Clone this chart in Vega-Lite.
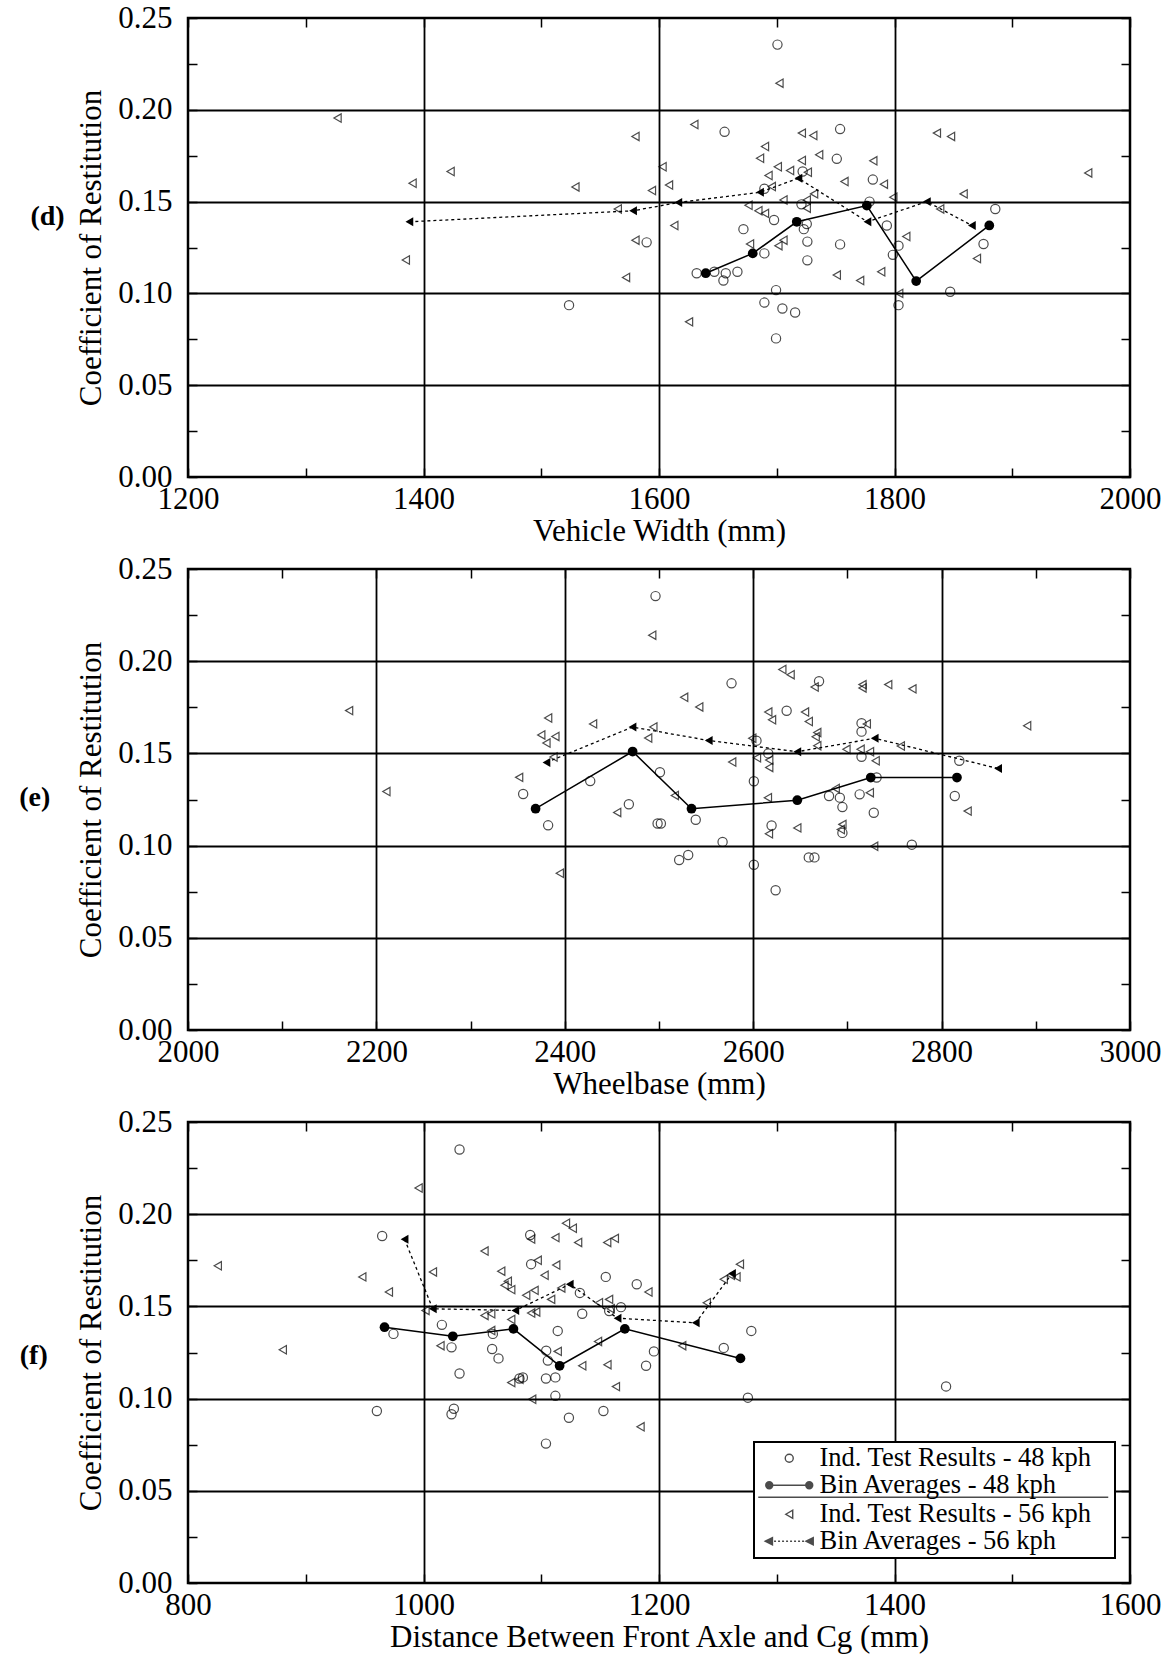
{
"$schema": "https://vega.github.io/schema/vega-lite/v6.json",
"padding": {"left": 17, "top": 0, "right": 5, "bottom": 5},
"background": "white",
"config": {
 "font": "Liberation Serif",
 "view": {"stroke": "black", "strokeWidth": 2.5},
 "legend": {"strokeWidth": 2},
 "axis": {"grid": true, "gridColor": "black", "gridWidth": 1.8, "domain": false, "ticks": true, "tickColor": "black", "tickSize": -9, "tickWidth": 1.5, "labelFont": "Liberation Serif", "labelFontSize": 31, "labelColor": "black", "labelFlush": false, "labelOverlap": false, "labelBound": false, "titleFont": "Liberation Serif", "titleFontSize": 31, "titleFontWeight": "normal", "titleColor": "black"},
 "axisX": {"labelPadding": 16, "titlePadding": 2},
 "axisY": {"labelPadding": 25, "titlePadding": 10}
},
"datasets": {
 "d48": [{"mm":1523.6,"cor":0.0936},{"mm":1589.5,"cor":0.1278},{"mm":1655.7,"cor":0.188},{"mm":1700.6,"cor":0.2355},{"mm":1753.8,"cor":0.1895},{"mm":1751,"cor":0.1733},{"mm":1781.6,"cor":0.162},{"mm":1722,"cor":0.1664},{"mm":1689.5,"cor":0.157},{"mm":1721,"cor":0.1485},{"mm":1778.8,"cor":0.15},{"mm":1697.7,"cor":0.14},{"mm":1671.7,"cor":0.135},{"mm":1723,"cor":0.135},{"mm":1725.5,"cor":0.1378},{"mm":1793.5,"cor":0.137},{"mm":1726,"cor":0.1282},{"mm":1753.8,"cor":0.1267},{"mm":1803.4,"cor":0.126},{"mm":1798.6,"cor":0.121},{"mm":1689.5,"cor":0.1218},{"mm":1726,"cor":0.118},{"mm":1632,"cor":0.111},{"mm":1647,"cor":0.1118},{"mm":1656.7,"cor":0.111},{"mm":1666.6,"cor":0.1118},{"mm":1654.7,"cor":0.107},{"mm":1699.4,"cor":0.1018},{"mm":1689.5,"cor":0.095},{"mm":1704.8,"cor":0.0918},{"mm":1715.6,"cor":0.0896},{"mm":1699.4,"cor":0.0755},{"mm":1803.4,"cor":0.0936},{"mm":1847.3,"cor":0.1009},{"mm":1885.6,"cor":0.146},{"mm":1875.6,"cor":0.1269}],
 "d56": [{"mm":1327,"cor":0.1955},{"mm":1423,"cor":0.1664},{"mm":1390.7,"cor":0.16},{"mm":1385,"cor":0.1182},{"mm":1580,"cor":0.1855},{"mm":1529,"cor":0.158},{"mm":1603,"cor":0.169},{"mm":1608.5,"cor":0.159},{"mm":1594,"cor":0.156},{"mm":1565,"cor":0.146},{"mm":1580,"cor":0.129},{"mm":1572,"cor":0.1087},{"mm":1613,"cor":0.137},{"mm":1630,"cor":0.192},{"mm":1625.5,"cor":0.0845},{"mm":1702.3,"cor":0.2145},{"mm":1690,"cor":0.18},{"mm":1685.8,"cor":0.1736},{"mm":1700.9,"cor":0.169},{"mm":1693,"cor":0.1642},{"mm":1711.3,"cor":0.1669},{"mm":1721.3,"cor":0.1873},{"mm":1731,"cor":0.186},{"mm":1736,"cor":0.1755},{"mm":1721.3,"cor":0.1724},{"mm":1726.4,"cor":0.166},{"mm":1695.8,"cor":0.1582},{"mm":1757.5,"cor":0.1609},{"mm":1782,"cor":0.1722},{"mm":1791,"cor":0.1595},{"mm":1799,"cor":0.1524},{"mm":1731.7,"cor":0.1542},{"mm":1725.5,"cor":0.1509},{"mm":1705.7,"cor":0.1509},{"mm":1725.5,"cor":0.1464},{"mm":1676,"cor":0.148},{"mm":1684.4,"cor":0.145},{"mm":1690,"cor":0.1436},{"mm":1677.3,"cor":0.1269},{"mm":1705.7,"cor":0.129},{"mm":1701.4,"cor":0.126},{"mm":1751,"cor":0.11},{"mm":1770.8,"cor":0.107},{"mm":1788.7,"cor":0.1118},{"mm":1810,"cor":0.131},{"mm":1804,"cor":0.1},{"mm":1836,"cor":0.1873},{"mm":1848,"cor":0.1855},{"mm":1858.7,"cor":0.1542},{"mm":1838.8,"cor":0.146},{"mm":1870,"cor":0.119},{"mm":1964.5,"cor":0.1656}],
 "d48avg": [{"mm":1639.7,"cor":0.111},{"mm":1679.6,"cor":0.1218},{"mm":1717,"cor":0.139},{"mm":1776.5,"cor":0.1478},{"mm":1818.4,"cor":0.1067},{"mm":1880.5,"cor":0.137}],
 "d56avg": [{"mm":1388,"cor":0.139},{"mm":1578,"cor":0.145},{"mm":1616.4,"cor":0.1495},{"mm":1685.8,"cor":0.1551},{"mm":1718.4,"cor":0.1627},{"mm":1777,"cor":0.139},{"mm":1827.5,"cor":0.15},{"mm":1865.7,"cor":0.137}],
 "e48": [{"mm":2496.3,"cor":0.2353},{"mm":2577,"cor":0.188},{"mm":2501,"cor":0.1398},{"mm":2427,"cor":0.135},{"mm":2355.8,"cor":0.128},{"mm":2382.3,"cor":0.111},{"mm":2468,"cor":0.1224},{"mm":2498.5,"cor":0.112},{"mm":2502,"cor":0.112},{"mm":2539,"cor":0.114},{"mm":2567.5,"cor":0.102},{"mm":2521.4,"cor":0.0922},{"mm":2531,"cor":0.0949},{"mm":2603.5,"cor":0.1569},{"mm":2669.9,"cor":0.1891},{"mm":2635.5,"cor":0.1731},{"mm":2715,"cor":0.1664},{"mm":2715,"cor":0.1618},{"mm":2616,"cor":0.15},{"mm":2715,"cor":0.1482},{"mm":2600.7,"cor":0.1349},{"mm":2731,"cor":0.1369},{"mm":2680.5,"cor":0.1269},{"mm":2692,"cor":0.126},{"mm":2694.7,"cor":0.1209},{"mm":2713,"cor":0.1278},{"mm":2728,"cor":0.1178},{"mm":2619.5,"cor":0.1109},{"mm":2694.7,"cor":0.1069},{"mm":2768.4,"cor":0.1005},{"mm":2818.8,"cor":0.146},{"mm":2814,"cor":0.1269},{"mm":2600.7,"cor":0.0896},{"mm":2659,"cor":0.0936},{"mm":2665,"cor":0.0936},{"mm":2623.8,"cor":0.0758}],
 "e56": [{"mm":2171,"cor":0.1732},{"mm":2210.6,"cor":0.1293},{"mm":2382.3,"cor":0.1692},{"mm":2375,"cor":0.16},{"mm":2390,"cor":0.1592},{"mm":2380.5,"cor":0.1556},{"mm":2388,"cor":0.148},{"mm":2430,"cor":0.166},{"mm":2351.5,"cor":0.137},{"mm":2394.7,"cor":0.085},{"mm":2492.8,"cor":0.2141},{"mm":2526.7,"cor":0.1804},{"mm":2542.7,"cor":0.1752},{"mm":2494,"cor":0.1643},{"mm":2488.5,"cor":0.1583},{"mm":2516.8,"cor":0.1272},{"mm":2455.6,"cor":0.118},{"mm":2577.7,"cor":0.1453},{"mm":2630.9,"cor":0.1955},{"mm":2639.7,"cor":0.1927},{"mm":2665.2,"cor":0.186},{"mm":2716,"cor":0.1873},{"mm":2716,"cor":0.1855},{"mm":2743.3,"cor":0.1873},{"mm":2769,"cor":0.185},{"mm":2616,"cor":0.1724},{"mm":2620,"cor":0.1682},{"mm":2655,"cor":0.1724},{"mm":2659,"cor":0.1673},{"mm":2668,"cor":0.1613},{"mm":2666.3,"cor":0.159},{"mm":2668,"cor":0.1542},{"mm":2599,"cor":0.1582},{"mm":2720.6,"cor":0.166},{"mm":2756.7,"cor":0.154},{"mm":2699,"cor":0.1522},{"mm":2714,"cor":0.1522},{"mm":2724,"cor":0.1509},{"mm":2730,"cor":0.146},{"mm":2604,"cor":0.1476},{"mm":2617,"cor":0.1464},{"mm":2617,"cor":0.1424},{"mm":2615.6,"cor":0.126},{"mm":2687.6,"cor":0.131},{"mm":2723.8,"cor":0.1287},{"mm":2646.8,"cor":0.1096},{"mm":2616.7,"cor":0.1064},{"mm":2694.7,"cor":0.1115},{"mm":2693,"cor":0.1087},{"mm":2728.4,"cor":0.0996},{"mm":2827.6,"cor":0.1187},{"mm":2890.8,"cor":0.165}],
 "e48avg": [{"mm":2369,"cor":0.12},{"mm":2472,"cor":0.151},{"mm":2534.5,"cor":0.12},{"mm":2646.8,"cor":0.1246},{"mm":2724.8,"cor":0.1369},{"mm":2816.3,"cor":0.1369}],
 "e56avg": [{"mm":2380.5,"cor":0.1451},{"mm":2471.9,"cor":0.1643},{"mm":2552.8,"cor":0.157},{"mm":2646.8,"cor":0.1509},{"mm":2729,"cor":0.1582},{"mm":2860,"cor":0.1418}],
 "f48": [{"mm":1030.6,"cor":0.2351},{"mm":964.9,"cor":0.1882},{"mm":974.5,"cor":0.1351},{"mm":1015.6,"cor":0.14},{"mm":1023.8,"cor":0.1278},{"mm":1058.9,"cor":0.1351},{"mm":1058.3,"cor":0.1269},{"mm":1063.7,"cor":0.1218},{"mm":1030.6,"cor":0.1136},{"mm":1090.6,"cor":0.1887},{"mm":1091.4,"cor":0.1729},{"mm":1114,"cor":0.1367},{"mm":1104.2,"cor":0.126},{"mm":1105.6,"cor":0.1206},{"mm":1084.4,"cor":0.1115},{"mm":1081.5,"cor":0.1109},{"mm":1104,"cor":0.1109},{"mm":1112,"cor":0.1115},{"mm":1112,"cor":0.1015},{"mm":960.4,"cor":0.0933},{"mm":1025.8,"cor":0.0945},{"mm":1023.8,"cor":0.0915},{"mm":1104,"cor":0.0756},{"mm":1123.5,"cor":0.0896},{"mm":1154.8,"cor":0.166},{"mm":1181.1,"cor":0.162},{"mm":1132.8,"cor":0.1573},{"mm":1167.7,"cor":0.1496},{"mm":1134.8,"cor":0.146},{"mm":1157.7,"cor":0.1475},{"mm":1195.7,"cor":0.1256},{"mm":1189,"cor":0.1178},{"mm":1255,"cor":0.1275},{"mm":1278.4,"cor":0.1367},{"mm":1275.5,"cor":0.1005},{"mm":1152.8,"cor":0.0933},{"mm":1443.8,"cor":0.1066}],
 "f56": [{"mm":825.3,"cor":0.172},{"mm":880.5,"cor":0.1265},{"mm":948,"cor":0.166},{"mm":970.6,"cor":0.1578},{"mm":995.8,"cor":0.2142},{"mm":1008,"cor":0.1687},{"mm":1001.7,"cor":0.1478},{"mm":1014.4,"cor":0.1287},{"mm":1051.8,"cor":0.18},{"mm":1066,"cor":0.1691},{"mm":1071.6,"cor":0.1636},{"mm":1068.8,"cor":0.1615},{"mm":1074.5,"cor":0.1591},{"mm":1091.4,"cor":0.1865},{"mm":1112,"cor":0.1873},{"mm":1097,"cor":0.175},{"mm":1112.7,"cor":0.1724},{"mm":1102.8,"cor":0.1669},{"mm":1094.3,"cor":0.1587},{"mm":1087.2,"cor":0.156},{"mm":1108.4,"cor":0.1538},{"mm":1117,"cor":0.16},{"mm":1121,"cor":0.1951},{"mm":1051.8,"cor":0.1451},{"mm":1057.5,"cor":0.146},{"mm":1074.5,"cor":0.1429},{"mm":1091.4,"cor":0.1464},{"mm":1095.7,"cor":0.147},{"mm":1057.5,"cor":0.1369},{"mm":1114,"cor":0.1256},{"mm":1074.5,"cor":0.1087},{"mm":1081.5,"cor":0.1105},{"mm":1092.3,"cor":0.0996},{"mm":1126.8,"cor":0.1924},{"mm":1131.3,"cor":0.1847},{"mm":1156,"cor":0.1847},{"mm":1162.5,"cor":0.1869},{"mm":1191,"cor":0.1578},{"mm":1149,"cor":0.152},{"mm":1157.6,"cor":0.1538},{"mm":1159,"cor":0.1487},{"mm":1148.2,"cor":0.131},{"mm":1134.8,"cor":0.1178},{"mm":1156.2,"cor":0.1184},{"mm":1163.4,"cor":0.1065},{"mm":1184.3,"cor":0.0847},{"mm":1219.7,"cor":0.1287},{"mm":1240.6,"cor":0.152},{"mm":1255,"cor":0.1647},{"mm":1268.7,"cor":0.1729},{"mm":1265.8,"cor":0.166},{"mm":1261,"cor":0.1669}],
 "f48avg": [{"mm":966.9,"cor":0.1387},{"mm":1024.9,"cor":0.1338},{"mm":1076.4,"cor":0.1378},{"mm":1115.6,"cor":0.1178},{"mm":1171,"cor":0.1378},{"mm":1269.2,"cor":0.1218}],
 "f56avg": [{"mm":983.9,"cor":0.1864},{"mm":1007.9,"cor":0.1487},{"mm":1078,"cor":0.1478},{"mm":1124.2,"cor":0.162},{"mm":1164.8,"cor":0.1436},{"mm":1231.2,"cor":0.1411},{"mm":1262,"cor":0.1678}]
},
"bounds": "flush",
"spacing": 92,
"vconcat": [
 {
  "width": 942, "height": 459,
  "title": {"text": "(d)", "orient": "left", "angle": 0, "anchor": "middle", "fontSize": 28, "fontWeight": "bold", "font": "Liberation Serif", "color": "black", "offset": 10, "dx": 16, "dy": -45},
  "resolve": {"axis": {"x": "independent", "y": "independent"}},
  "layer": [
   {"data": {"name": "d48"}, "mark": {"type": "point", "shape": "circle", "filled": false, "color": "black", "size": 85, "strokeWidth": 1.2},
    "encoding": {
     "x": {"field": "mm", "type": "quantitative", "scale": {"domain": [1200, 2000], "nice": false, "zero": false},
           "axis": {"orient": "bottom", "title": "Vehicle Width (mm)", "values": [1200,1300,1400,1500,1600,1700,1800,1900,2000], "format": "d", "labelExpr": "datum.value % 200 === 0 ? datum.label : ''", "gridOpacity": {"condition": {"test": "datum.value % 200 === 0 && datum.value > 1200 && datum.value < 2000", "value": 1}, "value": 0}}},
     "y": {"field": "cor", "type": "quantitative", "scale": {"domain": [0, 0.25], "nice": false},
           "axis": {"orient": "left", "title": "Coefficient of Restitution", "values": [0,0.025,0.05,0.075,0.1,0.125,0.15,0.175,0.2,0.225,0.25], "labelExpr": "round(datum.value*1000) % 50 === 0 ? format(datum.value, '.2f') : ''", "gridOpacity": {"condition": {"test": "round(datum.value*1000) % 50 === 0 && datum.value > 0.001 && datum.value < 0.249", "value": 1}, "value": 0}}}
    }},
   {"data": {"name": "d56"}, "mark": {"type": "point", "shape": "triangle-left", "filled": false, "color": "black", "size": 70, "strokeWidth": 1.2},
    "encoding": {
     "x": {"field": "mm", "type": "quantitative", "scale": {"domain": [1200, 2000], "nice": false, "zero": false},
           "axis": {"orient": "top", "title": null, "labels": false, "grid": false, "values": [1200,1300,1400,1500,1600,1700,1800,1900,2000]}},
     "y": {"field": "cor", "type": "quantitative", "scale": {"domain": [0, 0.25], "nice": false},
           "axis": {"orient": "right", "title": null, "labels": false, "grid": false, "values": [0,0.025,0.05,0.075,0.1,0.125,0.15,0.175,0.2,0.225,0.25]}}
    }},
   {"data": {"name": "d48avg"}, "mark": {"type": "line", "color": "black", "strokeWidth": 1.5, "point": {"filled": true, "shape": "circle", "size": 95, "color": "black"}},
    "encoding": {"x": {"field": "mm", "type": "quantitative", "axis": null}, "y": {"field": "cor", "type": "quantitative", "axis": null}}},
   {"data": {"name": "d56avg"}, "mark": {"type": "line", "color": "black", "strokeWidth": 1.3, "strokeDash": [3, 3], "point": {"filled": true, "shape": "triangle-left", "size": 80, "color": "black"}},
    "encoding": {"x": {"field": "mm", "type": "quantitative", "axis": null}, "y": {"field": "cor", "type": "quantitative", "axis": null}}}
  ]
 },
 {
  "width": 942, "height": 461,
  "title": {"text": "(e)", "orient": "left", "angle": 0, "anchor": "middle", "fontSize": 28, "fontWeight": "bold", "font": "Liberation Serif", "color": "black", "offset": 10, "dy": -16},
  "resolve": {"axis": {"x": "independent", "y": "independent"}},
  "layer": [
   {"data": {"name": "e48"}, "mark": {"type": "point", "shape": "circle", "filled": false, "color": "black", "size": 85, "strokeWidth": 1.2},
    "encoding": {
     "x": {"field": "mm", "type": "quantitative", "scale": {"domain": [2000, 3000], "nice": false, "zero": false},
           "axis": {"orient": "bottom", "title": "Wheelbase (mm)", "values": [2000,2100,2200,2300,2400,2500,2600,2700,2800,2900,3000], "format": "d", "labelExpr": "datum.value % 200 === 0 ? datum.label : ''", "gridOpacity": {"condition": {"test": "datum.value % 200 === 0 && datum.value > 2000 && datum.value < 3000", "value": 1}, "value": 0}}},
     "y": {"field": "cor", "type": "quantitative", "scale": {"domain": [0, 0.25], "nice": false},
           "axis": {"orient": "left", "title": "Coefficient of Restitution", "values": [0,0.025,0.05,0.075,0.1,0.125,0.15,0.175,0.2,0.225,0.25], "labelExpr": "round(datum.value*1000) % 50 === 0 ? format(datum.value, '.2f') : ''", "gridOpacity": {"condition": {"test": "round(datum.value*1000) % 50 === 0 && datum.value > 0.001 && datum.value < 0.249", "value": 1}, "value": 0}}}
    }},
   {"data": {"name": "e56"}, "mark": {"type": "point", "shape": "triangle-left", "filled": false, "color": "black", "size": 70, "strokeWidth": 1.2},
    "encoding": {
     "x": {"field": "mm", "type": "quantitative", "scale": {"domain": [2000, 3000], "nice": false, "zero": false},
           "axis": {"orient": "top", "title": null, "labels": false, "grid": false, "values": [2000,2100,2200,2300,2400,2500,2600,2700,2800,2900,3000]}},
     "y": {"field": "cor", "type": "quantitative", "scale": {"domain": [0, 0.25], "nice": false},
           "axis": {"orient": "right", "title": null, "labels": false, "grid": false, "values": [0,0.025,0.05,0.075,0.1,0.125,0.15,0.175,0.2,0.225,0.25]}}
    }},
   {"data": {"name": "e48avg"}, "mark": {"type": "line", "color": "black", "strokeWidth": 1.5, "point": {"filled": true, "shape": "circle", "size": 95, "color": "black"}},
    "encoding": {"x": {"field": "mm", "type": "quantitative", "axis": null}, "y": {"field": "cor", "type": "quantitative", "axis": null}}},
   {"data": {"name": "e56avg"}, "mark": {"type": "line", "color": "black", "strokeWidth": 1.3, "strokeDash": [3, 3], "point": {"filled": true, "shape": "triangle-left", "size": 80, "color": "black"}},
    "encoding": {"x": {"field": "mm", "type": "quantitative", "axis": null}, "y": {"field": "cor", "type": "quantitative", "axis": null}}}
  ]
 },
 {
  "width": 942, "height": 461,
  "title": {"text": "(f)", "orient": "left", "angle": 0, "anchor": "middle", "fontSize": 28, "fontWeight": "bold", "font": "Liberation Serif", "color": "black", "offset": 10, "dx": -4, "dy": -11},
  "resolve": {"axis": {"x": "independent", "y": "independent"}},
  "layer": [
   {"data": {"name": "f48"}, "mark": {"type": "point", "filled": false, "color": "black", "size": 85, "strokeWidth": 1.2},
    "encoding": {
     "x": {"field": "mm", "type": "quantitative", "scale": {"domain": [800, 1600], "nice": false, "zero": false},
           "axis": {"orient": "bottom", "title": "Distance Between Front Axle and Cg (mm)", "values": [800,900,1000,1100,1200,1300,1400,1500,1600], "format": "d", "labelExpr": "datum.value % 200 === 0 ? datum.label : ''", "gridOpacity": {"condition": {"test": "datum.value % 200 === 0 && datum.value > 800 && datum.value < 1600", "value": 1}, "value": 0}}},
     "y": {"field": "cor", "type": "quantitative", "scale": {"domain": [0, 0.25], "nice": false},
           "axis": {"orient": "left", "title": "Coefficient of Restitution", "values": [0,0.025,0.05,0.075,0.1,0.125,0.15,0.175,0.2,0.225,0.25], "labelExpr": "round(datum.value*1000) % 50 === 0 ? format(datum.value, '.2f') : ''", "gridOpacity": {"condition": {"test": "round(datum.value*1000) % 50 === 0 && datum.value > 0.001 && datum.value < 0.249", "value": 1}, "value": 0}}},
     "shape": {"datum": "Ind. Test Results - 48 kph", "type": "nominal",
       "scale": {"domain": ["Ind. Test Results - 48 kph", "Bin Averages - 48 kph", "Ind. Test Results - 56 kph", "Bin Averages - 56 kph"],
                 "range": ["circle",
                           "M-5,0L5,0M-4.125,0A0.875,0.875,0,1,1,-5.875,0A0.875,0.875,0,1,1,-4.125,0ZM-4.4,0A0.6,0.6,0,1,1,-5.6,0A0.6,0.6,0,1,1,-4.4,0ZM-4.65,0A0.35,0.35,0,1,1,-5.35,0A0.35,0.35,0,1,1,-4.65,0ZM-4.88,0A0.12,0.12,0,1,1,-5.12,0A0.12,0.12,0,1,1,-4.88,0ZM5.875,0A0.875,0.875,0,1,1,4.125,0A0.875,0.875,0,1,1,5.875,0ZM5.6,0A0.6,0.6,0,1,1,4.4,0A0.6,0.6,0,1,1,5.6,0ZM5.35,0A0.35,0.35,0,1,1,4.65,0A0.35,0.35,0,1,1,5.35,0ZM5.12,0A0.12,0.12,0,1,1,4.88,0A0.12,0.12,0,1,1,5.12,0ZM-7.75,3.0L79.75,3.0",
                           "triangle-left",
                           "M-3.8,0L-3.3,0M-2.8,0L-2.3,0M-1.8,0L-1.3,0M-0.8,0L-0.3,0M0.2,0L0.7,0M1.2,0L1.7,0M2.2,0L2.7,0M3.2,0L3.7,0M-6,0L-4.2,-0.9L-4.2,0.9ZM-5.4,0L-4.5,-0.45L-4.5,0.45ZM-4.9,0L-4.6,-0.1L-4.6,0.1ZM4.2,0L6,-0.9L6,0.9ZM4.8,0L5.7,-0.45L5.7,0.45ZM5.3,0L5.6,-0.1L5.6,0.1Z"]},
       "legend": {"orient": "none", "legendX": 566, "legendY": 1424, "title": null, "direction": "vertical",
         "labelFont": "Liberation Serif", "labelFontSize": 26.5, "labelColor": "black", "labelLimit": 0,
         "strokeColor": "black", "fillColor": "white", "padding": 3, "rowPadding": 0,
         "symbolSize": 64, "symbolOffset": 19, "labelOffset": 17, "symbolStrokeColor": "black", "symbolStrokeWidth": 1.4, "symbolFillColor": "transparent"}}
    }},
   {"data": {"name": "f56"}, "mark": {"type": "point", "filled": false, "color": "black", "size": 70, "strokeWidth": 1.2},
    "encoding": {
     "x": {"field": "mm", "type": "quantitative", "scale": {"domain": [800, 1600], "nice": false, "zero": false},
           "axis": {"orient": "top", "title": null, "labels": false, "grid": false, "values": [800,900,1000,1100,1200,1300,1400,1500,1600]}},
     "y": {"field": "cor", "type": "quantitative", "scale": {"domain": [0, 0.25], "nice": false},
           "axis": {"orient": "right", "title": null, "labels": false, "grid": false, "values": [0,0.025,0.05,0.075,0.1,0.125,0.15,0.175,0.2,0.225,0.25]}},
     "shape": {"datum": "Ind. Test Results - 56 kph", "type": "nominal"}
    }},
   {"data": {"name": "f48avg"}, "mark": {"type": "line", "color": "black", "strokeWidth": 1.5, "point": {"filled": true, "shape": "circle", "size": 95, "color": "black"}},
    "encoding": {"x": {"field": "mm", "type": "quantitative", "axis": null}, "y": {"field": "cor", "type": "quantitative", "axis": null}}},
   {"data": {"name": "f56avg"}, "mark": {"type": "line", "color": "black", "strokeWidth": 1.3, "strokeDash": [3, 3], "point": {"filled": true, "shape": "triangle-left", "size": 80, "color": "black"}},
    "encoding": {"x": {"field": "mm", "type": "quantitative", "axis": null}, "y": {"field": "cor", "type": "quantitative", "axis": null}}}
  ]
 }
]
}
